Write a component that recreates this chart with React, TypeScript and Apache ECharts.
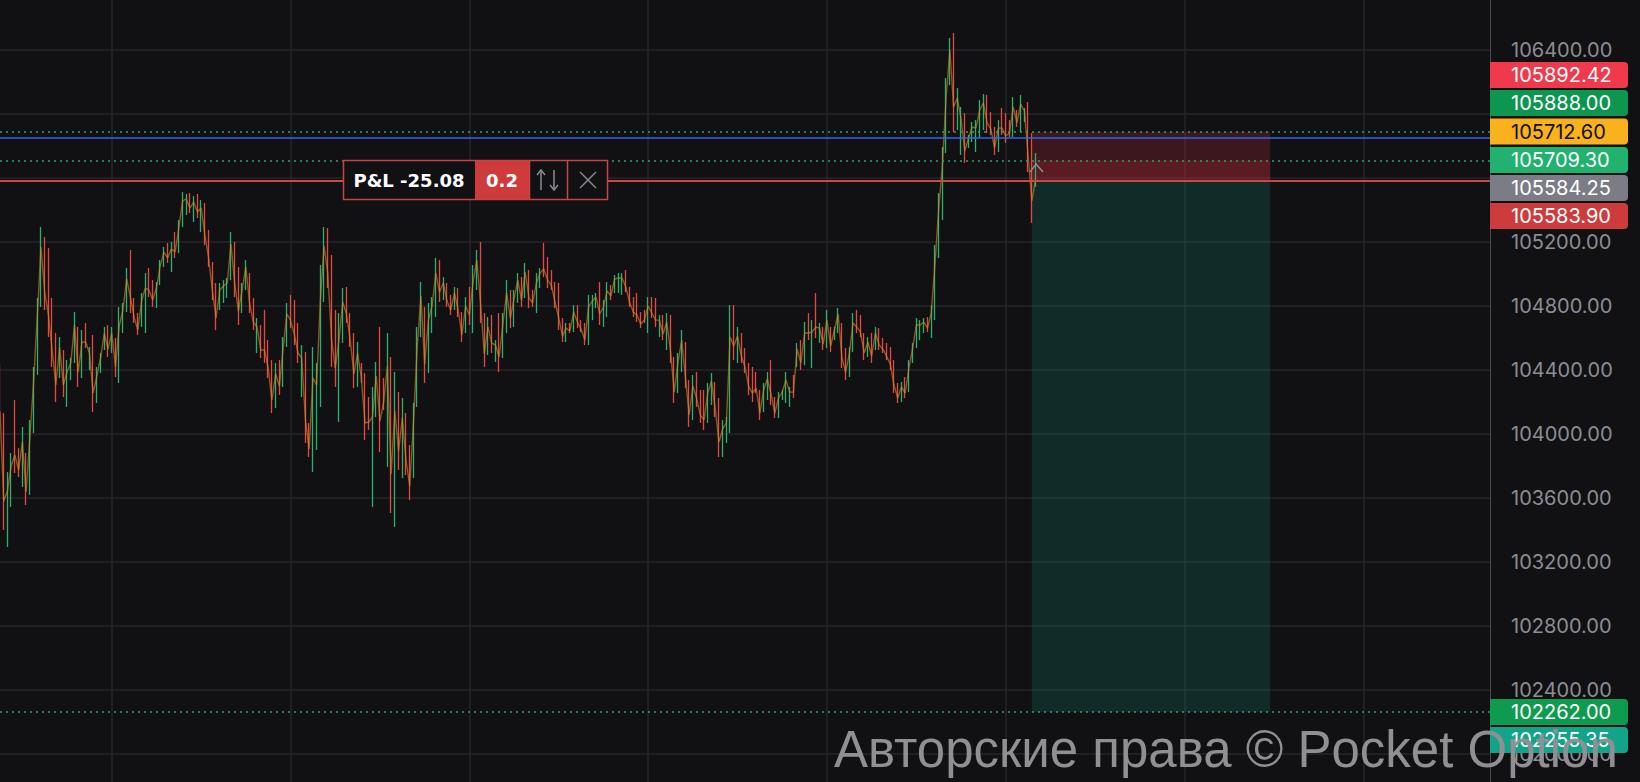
import React, { useEffect, useRef } from "react";
import * as echarts from "echarts";

// OHLC bars: [open, close, low, high] left to right
const ohlc: number[][] = [
  [104344,104144,104044,104444],[103950,103581,103400,104131],[103412,103644,103294,103762],[103625,103800,103544,103881],
  [104100,103869,103756,104212],[103869,103775,103731,103912],[103762,103950,103669,104044],[103800,103637,103556,103881],
  [103737,103969,103619,104087],[104106,104319,104006,104419],[104487,104731,104369,104850],[104919,105169,104794,105294],
  [105119,104887,104775,105231],[105025,104744,104606,105162],[104744,104525,104419,104850],[104525,104306,104200,104631],
  [104412,104544,104350,104606],[104450,104306,104231,104525],[104244,104387,104169,104462],[104369,104444,104337,104475],
  [104525,104681,104444,104762],[104575,104387,104294,104669],[104425,104575,104350,104650],[104656,104575,104537,104694],
  [104437,104506,104400,104544],[104500,104256,104137,104619],[104250,104362,104194,104419],[104412,104475,104381,104506],
  [104562,104631,104525,104669],[104631,104531,104481,104681],[104544,104631,104506,104669],[104537,104419,104356,104600],
  [104437,104675,104319,104794],[104675,104775,104631,104819],[104831,104969,104762,105037],[105050,104856,104756,105150],
  [104812,104731,104694,104850],[104725,104650,104619,104756],[104719,104831,104669,104881],[104725,104912,104631,105006],
  [104994,104900,104856,105037],[104919,104837,104794,104962],[104825,104912,104787,104950],[104969,105050,104931,105087],
  [105075,105137,105044,105169],[105162,105100,105069,105194],[105056,105156,105012,105200],[105225,105137,105100,105262],
  [105181,105287,105131,105337],[105350,105456,105294,105512],[105400,105469,105369,105500],[105475,105412,105381,105506],
  [105362,105450,105325,105487],[105462,105387,105350,105500],[105312,105412,105262,105462],[105381,105244,105181,105444],
  [105219,105100,105044,105275],[105012,104900,104837,105075],[104869,104725,104650,104944],[104819,104900,104775,104944],
  [104856,104925,104819,104962],[104881,104944,104850,104975],[105037,105187,104962,105262],[105112,104944,104856,105200],
  [104956,104769,104681,105044],[104800,104900,104756,104944],[104944,105044,104900,105087],[104944,104819,104756,105006],
  [104800,104700,104650,104850],[104562,104669,104506,104725],[104631,104525,104475,104681],[104694,104525,104444,104775],
  [104525,104412,104350,104587],[104381,104212,104131,104462],[104231,104375,104162,104444],[104406,104300,104244,104462],
  [104369,104531,104294,104606],[104612,104750,104544,104819],[104819,104712,104662,104869],[104769,104625,104556,104837],
  [104631,104506,104444,104694],[104312,104475,104231,104556],[104369,104087,103944,104512],[104019,103906,103856,104069],
  [103956,104350,103762,104544],[104037,104306,103900,104444],[104387,104837,104169,105056],[104944,105175,104825,105294],
  [105194,105006,104912,105287],[104944,104594,104419,105119],[104656,104412,104294,104775],[104244,104587,104075,104756],
  [104656,104825,104569,104912],[104862,104750,104694,104919],[104706,104594,104544,104756],[104544,104375,104287,104631],
  [104362,104506,104294,104575],[104412,104350,104319,104444],[104275,104069,103962,104381],[104181,104075,104025,104231],
  [103731,104106,103544,104294],[104194,104362,104106,104450],[104475,104081,103887,104669],[104300,104200,104150,104350],
  [104000,104425,103794,104631],[104237,103750,103506,104481],[103662,104144,103419,104387],[104144,103894,103775,104262],
  [103850,104100,103725,104225],[104037,103837,103744,104131],[103844,103675,103587,103931],[103844,104075,103725,104194],
  [104294,104544,104169,104669],[104694,104862,104606,104950],[104675,104437,104319,104794],[104487,104712,104381,104819],
  [104687,104800,104631,104856],[104825,105006,104731,105100],[105025,104887,104825,105087],[104875,104944,104837,104981],
  [104906,104831,104794,104944],[104837,104775,104744,104869],[104812,104881,104775,104919],[104869,104775,104731,104912],
  [104719,104619,104575,104762],[104687,104800,104631,104856],[104856,104744,104681,104919],[104737,104950,104631,105056],
  [104962,105087,104900,105150],[105075,104819,104694,105200],[104675,104500,104419,104756],[104556,104669,104494,104731],
  [104681,104569,104506,104744],[104481,104556,104450,104587],[104662,104481,104387,104756],[104544,104687,104475,104756],
  [104712,104881,104631,104962],[104837,104725,104662,104900],[104725,104844,104669,104900],[104862,104962,104819,105006],
  [104937,104837,104794,104981],[104906,105012,104850,105069],[104962,104850,104787,105025],[104875,104819,104794,104900],
  [104819,104944,104756,105006],[104944,105006,104912,105037],[105144,105031,104981,105194],[105056,104962,104912,105106],
  [104994,104931,104900,105025],[104912,104825,104787,104950],[104869,104725,104650,104944],[104687,104612,104575,104725],
  [104606,104662,104575,104694],[104681,104644,104631,104694],[104681,104762,104637,104806],[104769,104700,104662,104806],
  [104694,104656,104637,104712],[104662,104587,104556,104694],[104631,104794,104556,104869],[104750,104831,104712,104869],
  [104812,104856,104787,104881],[104881,104750,104681,104950],[104712,104794,104669,104837],[104787,104894,104731,104950],
  [104906,104862,104837,104931],[104906,104969,104881,104994],[104912,104975,104881,105006],[104900,104975,104869,105006],
  [104994,104919,104887,105025],[104887,104825,104794,104919],[104825,104762,104731,104856],[104837,104744,104700,104881],
  [104737,104687,104662,104762],[104756,104712,104694,104775],[104687,104800,104631,104856],[104825,104756,104725,104856],
  [104806,104712,104669,104850],[104637,104712,104606,104744],[104706,104625,104587,104744],[104581,104700,104525,104756],
  [104669,104519,104444,104744],[104412,104262,104194,104481],[104319,104444,104256,104506],[104450,104587,104387,104650],
  [104506,104356,104287,104575],[104262,104119,104044,104337],[104156,104300,104087,104369],[104331,104225,104169,104387],
  [104225,104119,104069,104275],[104212,104087,104025,104275],[104131,104256,104069,104319],[104231,104331,104181,104381],
  [104269,104162,104106,104325],[104131,103950,103856,104225],[103912,104031,103856,104087],[103981,104069,103944,104106],
  [104206,104606,104006,104806],[104719,104550,104462,104806],[104500,104612,104444,104669],[104587,104487,104444,104631],
  [104500,104419,104381,104537],[104394,104294,104244,104444],[104362,104256,104200,104419],[104356,104287,104256,104387],
  [104231,104131,104087,104275],[104181,104275,104137,104319],[104256,104344,104212,104387],[104394,104250,104181,104462],
  [104200,104131,104100,104231],[104137,104225,104100,104262],[104225,104262,104212,104275],[104244,104337,104194,104387],
  [104200,104262,104169,104294],[104331,104262,104225,104369],[104456,104531,104419,104569],[104544,104444,104400,104587],
  [104500,104631,104431,104700],[104712,104631,104587,104756],[104487,104637,104412,104712],[104812,104669,104600,104881],
  [104600,104662,104569,104694],[104631,104562,104525,104669],[104600,104712,104537,104775],[104631,104550,104512,104669],
  [104606,104650,104587,104669],[104669,104750,104631,104787],[104625,104481,104412,104694],[104487,104387,104337,104537],
  [104400,104500,104356,104544],[104575,104694,104512,104756],[104737,104669,104631,104775],[104712,104637,104606,104744],
  [104587,104506,104462,104631],[104512,104575,104481,104606],[104587,104487,104444,104631],[104562,104631,104525,104669],
  [104631,104556,104525,104662],[104575,104531,104506,104600],[104544,104487,104462,104569],[104506,104437,104400,104544],
  [104412,104306,104256,104462],[104287,104225,104194,104319],[104231,104294,104200,104325],[104325,104256,104225,104356],
  [104312,104412,104262,104462],[104475,104537,104444,104569],[104581,104681,104537,104725],[104619,104681,104587,104712],
  [104656,104700,104631,104725],[104706,104662,104637,104731],[104650,104756,104600,104806],[104831,105062,104712,105181],
  [105200,105406,105100,105506],[105450,105681,105337,105794],[105875,106106,105756,106225],[106256,106400,106181,106475],
  [106350,106044,105887,106506],[105962,106100,105900,106162],[105819,105969,105744,106044],[105931,105769,105694,106006],
  [105806,105850,105787,105869],[105856,105919,105825,105950],[105812,105912,105762,105962],[105912,106025,105850,106087],
  [105956,106069,105900,106125],[106056,105944,105881,106119],[105975,105906,105869,106012],[105875,105787,105744,105919],
  [105812,105912,105762,105962],[105994,105912,105869,106037],[105962,105862,105819,106006],[105937,105881,105856,105962],
  [105919,106044,105856,106106],[106000,105944,105919,106025],[105944,106062,105887,106119],[105969,106019,105950,106037],
  [105969,105744,105637,106075],[105744,105456,105319,105881],[105550,105590,105544,105756],
];

// Time slots on the x axis (the visible part holds 401 slots, the last ~120 are still empty)
const slotCount = 401;
const categories = Array.from({ length: slotCount }, (_, i) => String(i));
const gridFirstSlot = 30;
const gridEverySlots = 48;

// Price axis
const yMin = 101600;
const yMax = 106800;
const yStep = 400;
// tick labels that are off-screen or hidden behind the price badges in the reference
const hiddenTicks = [106800, 106000, 105600, 101600];

// Trade levels
const stopLoss = 105888;
const entryPrice = 105584;
const markPrice = 105710;
const blueLevel = 105850;
const takeProfit = 102262;
const tradeFrom = 277;
const tradeTo = 341;

// Price badges on the right
const badgeTexts = ["105892.42", "105888.00", "105712.60", "105709.30", "105584.25", "105583.90", "102262.00", "102255.35"];

// P&L widget texts
const pnlText = "P&L -25.08";
const lotText = "0.2";
const watermark = "Авторские права © Pocket Option";

// ---- styles / layout (not data) ----
const BG = "#111114";
const GRID = "#25252a";
const UP = "#28b26c";
const DOWN = "#e8483f";
const badgeFill = ["#f0394b", "#0c9650", "#f9b11d", "#21b26f", "#7b7c85", "#cd3b3c", "#0f9b4f", "#12a489"];
const badgeInk = ["#ffffff", "#ffffff", "#111111", "#ffffff", "#ffffff", "#ffffff", "#ffffff", "#ffffff"];
const badgeMid = [75, 103, 131.5, 160, 188, 216, 712, 740];

function buildGraphics() {
  const g: any[] = [];
  badgeTexts.forEach((t, i) => {
    g.push({
      type: "rect", z: 100,
      shape: { x: 1490, y: badgeMid[i] - 13, width: 138, height: 26, r: [0, 4, 4, 0] },
      style: { fill: badgeFill[i] },
    });
    g.push({
      type: "text", z: 101, x: 1511, y: badgeMid[i],
      style: { text: t, fill: badgeInk[i], fontSize: 20, fontFamily: "Inter", align: "left", verticalAlign: "middle" },
    });
  });
  const red = "#c54546";
  g.push({ type: "rect", z: 100, shape: { x: 343.5, y: 160.5, width: 264, height: 39 }, style: { fill: BG, stroke: red, lineWidth: 1.5 } });
  g.push({ type: "rect", z: 101, shape: { x: 475, y: 161, width: 54, height: 38 }, style: { fill: "#cf3b3b" } });
  g.push({ type: "line", z: 101, shape: { x1: 529.5, y1: 160.5, x2: 529.5, y2: 199.5 }, style: { stroke: red, lineWidth: 1.5 } });
  g.push({ type: "line", z: 101, shape: { x1: 567.5, y1: 160.5, x2: 567.5, y2: 199.5 }, style: { stroke: red, lineWidth: 1.5 } });
  g.push({
    type: "text", z: 102, x: 409, y: 180,
    style: { text: pnlText, fill: "#ffffff", fontSize: 18, fontWeight: "bold", fontFamily: "DejaVu Sans", align: "center", verticalAlign: "middle" },
  });
  g.push({
    type: "text", z: 102, x: 502, y: 180,
    style: { text: lotText, fill: "#ffffff", fontSize: 18, fontWeight: "bold", fontFamily: "DejaVu Sans", align: "center", verticalAlign: "middle" },
  });
  const ic = "#8b8b90";
  g.push({ type: "line", z: 102, shape: { x1: 541, y1: 170, x2: 541, y2: 190 }, style: { stroke: ic, lineWidth: 1.5 } });
  g.push({ type: "polyline", z: 102, shape: { points: [[537, 175], [541, 170], [545, 175]] }, style: { stroke: ic, lineWidth: 1.5, fill: null } });
  g.push({ type: "line", z: 102, shape: { x1: 554, y1: 170, x2: 554, y2: 190 }, style: { stroke: ic, lineWidth: 1.5 } });
  g.push({ type: "polyline", z: 102, shape: { points: [[550, 185], [554, 190], [558, 185]] }, style: { stroke: ic, lineWidth: 1.5, fill: null } });
  g.push({ type: "line", z: 102, shape: { x1: 580, y1: 172, x2: 596, y2: 188 }, style: { stroke: ic, lineWidth: 1.5 } });
  g.push({ type: "line", z: 102, shape: { x1: 596, y1: 172, x2: 580, y2: 188 }, style: { stroke: ic, lineWidth: 1.5 } });
  g.push({ type: "polyline", z: 102, shape: { points: [[1030, 172], [1036, 164], [1043, 172]] }, style: { stroke: "#8b8b93", lineWidth: 1.5, fill: null } });
  g.push({
    type: "text", z: 200, x: 834, y: 749,
    style: { text: watermark, fill: "#8f8f94", fontSize: 51, fontFamily: "Liberation Sans", align: "left", verticalAlign: "middle" },
  });
  return g;
}

export default function App() {
  const ref = useRef<HTMLDivElement>(null);
  useEffect(() => {
    document.body.style.margin = "0";
    document.body.style.background = BG;
    const chart = echarts.init(ref.current!, null, { renderer: "svg" });
    const closes = ohlc.map((d) => d[1]);
    const dotted = { color: "#27a96b", type: [2, 4], width: 1.5 };
    const option: any = {
      animation: false,
      backgroundColor: BG,
      grid: { left: 0, right: 150, top: -14, bottom: -36, containLabel: false, outerBoundsMode: "none" },
      xAxis: {
        type: "category",
        data: categories,
        boundaryGap: false,
        axisLine: { show: false },
        axisTick: { show: false },
        axisLabel: { show: false },
        splitLine: {
          show: true,
          interval: (i: number) => i >= gridFirstSlot && (i - gridFirstSlot) % gridEverySlots === 0,
          lineStyle: { color: GRID, width: 1.5 },
        },
      },
      yAxis: {
        type: "value",
        position: "right",
        min: yMin,
        max: yMax,
        interval: yStep,
        axisLine: { show: true, lineStyle: { color: "#4a4a50", width: 1 } },
        axisTick: { show: false },
        axisLabel: {
          color: "#8d8d93", fontSize: 20, fontFamily: "Inter", margin: 21,
          formatter: (v: number) => (hiddenTicks.includes(v) ? "" : v.toFixed(2)),
        },
        splitLine: { show: true, lineStyle: { color: GRID, width: 1.5 } },
      },
      series: [
        {
          type: "line",
          data: closes,
          z: 1,
          showSymbol: false,
          silent: true,
          lineStyle: { opacity: 0 },
          markArea: {
            silent: true,
            data: [
              [{ xAxis: tradeFrom, yAxis: stopLoss, itemStyle: { color: "rgba(200,45,60,0.24)" } }, { xAxis: tradeTo, yAxis: entryPrice }],
              [{ xAxis: tradeFrom, yAxis: markPrice, itemStyle: { color: "rgba(200,45,60,0.22)" } }, { xAxis: tradeTo, yAxis: entryPrice }],
              [{ xAxis: tradeFrom, yAxis: entryPrice, itemStyle: { color: "rgba(20,150,120,0.2)" } }, { xAxis: tradeTo, yAxis: takeProfit }],
            ],
          },
          markLine: {
            silent: true,
            symbol: "none",
            label: { show: false },
            data: [
              { yAxis: stopLoss, lineStyle: dotted },
              { yAxis: markPrice, lineStyle: dotted },
              { yAxis: takeProfit, lineStyle: dotted },
              { yAxis: blueLevel, lineStyle: { color: "#2f66ee", type: "solid", width: 1.5 } },
              { yAxis: entryPrice, lineStyle: { color: "#c8494b", type: "solid", width: 1.8 } },
            ],
          },
        },
        {
          type: "candlestick",
          data: ohlc,
          z: 3,
          barWidth: 1,
          itemStyle: { color: UP, color0: DOWN, borderColor: UP, borderColor0: DOWN, borderWidth: 1.3 },
        },
        {
          type: "line",
          data: closes,
          z: 4,
          showSymbol: false,
          silent: true,
          lineStyle: { color: "rgba(214,138,42,0.6)", width: 1.4 },
        },
      ],
      graphic: buildGraphics(),
    };
    chart.setOption(option);
    return () => chart.dispose();
  }, []);
  return <div ref={ref} style={{ width: 1640, height: 782, background: BG }} />;
}
